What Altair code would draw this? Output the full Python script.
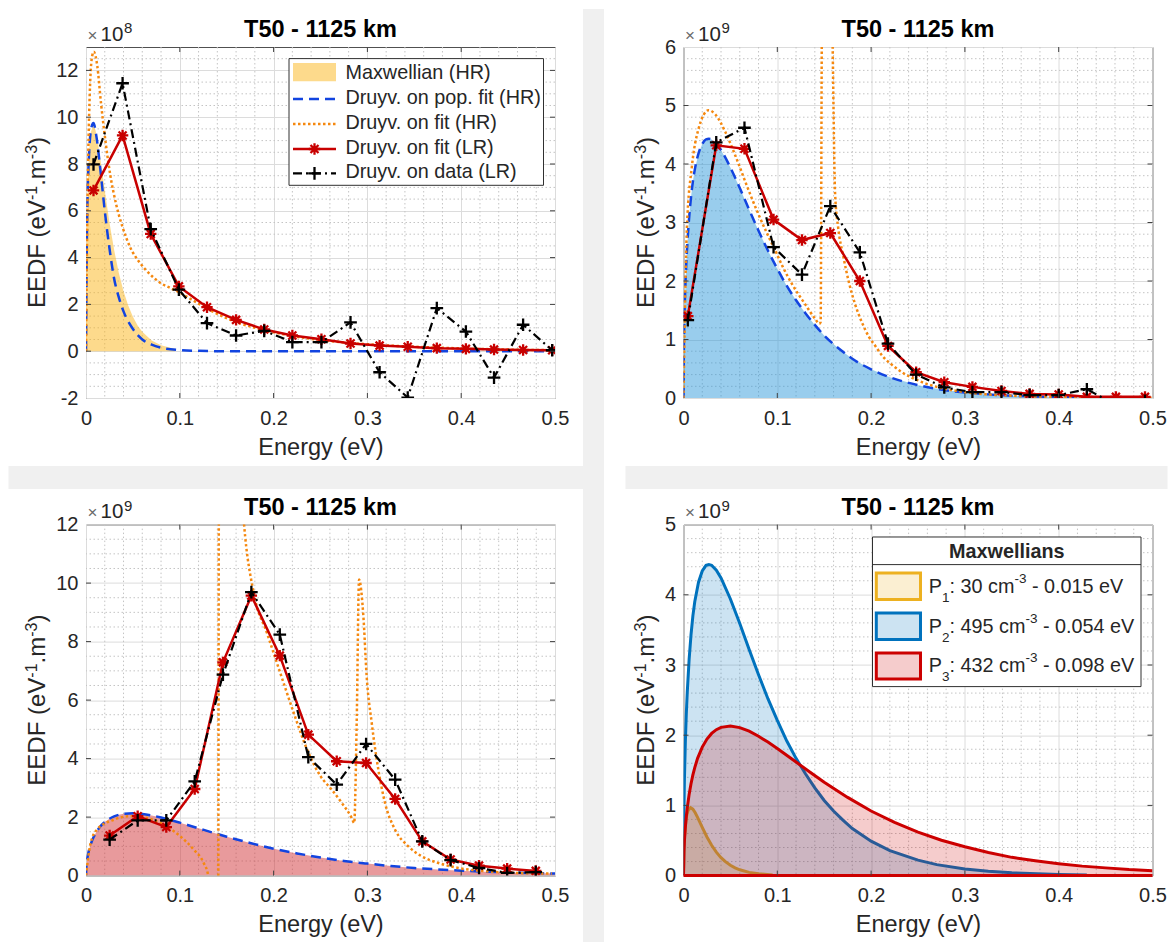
import altair as alt
import pandas as pd

# ---------------------------------------------------------------- data
# Maxwellian populations (EEDF in 1e9 eV^-1 m^-3)
E_p1 = [0, 0.0005, 0.001, 0.0025, 0.0035, 0.005, 0.0075, 0.01, 0.0125, 0.015, 0.0175, 0.02, 0.025, 0.03, 0.035,
        0.04, 0.045, 0.05, 0.055, 0.06, 0.07, 0.08, 0.095]
P1 = [0, 0.398, 0.545, 0.780, 0.863, 0.933, 0.968, 0.946, 0.895, 0.830, 0.759, 0.687, 0.550, 0.432, 0.334,
      0.256, 0.195, 0.147, 0.110, 0.083, 0.046, 0.025, 0.009]
E_p2 = [0, 0.0005, 0.001, 0.002, 0.003, 0.004, 0.006, 0.008, 0.01, 0.012, 0.016, 0.02, 0.024, 0.027, 0.03, 0.035,
        0.04, 0.05, 0.06, 0.07, 0.08, 0.09, 0.1, 0.11, 0.12, 0.13, 0.14, 0.15, 0.16, 0.17, 0.18, 0.2, 0.22, 0.25,
        0.27, 0.3, 0.325, 0.35, 0.4, 0.43]
P2 = [0, 0.99, 1.38, 1.92, 2.31, 2.61, 3.08, 3.43, 3.70, 3.90, 4.18, 4.34, 4.42, 4.43, 4.42, 4.35,
      4.24, 3.94, 3.59, 3.22, 2.86, 2.52, 2.21, 1.92, 1.67, 1.45, 1.25, 1.07, 0.92, 0.79, 0.67, 0.49, 0.355, 0.22,
      0.156, 0.094, 0.062, 0.040, 0.016, 0.009]
E_p3 = [0, 0.0005, 0.001, 0.002, 0.003, 0.004, 0.006, 0.008, 0.01, 0.012, 0.015, 0.02, 0.025, 0.03, 0.035, 0.04,
        0.05, 0.06, 0.07, 0.08, 0.09, 0.1, 0.11, 0.12, 0.135, 0.15, 0.175, 0.2, 0.225, 0.25, 0.275, 0.3, 0.325,
        0.35, 0.375, 0.4, 0.425, 0.45, 0.475, 0.5]
P3 = [0, 0.353, 0.497, 0.696, 0.844, 0.964, 1.157, 1.309, 1.434, 1.539, 1.67, 1.831, 1.945, 2.025, 2.079, 2.112,
      2.131, 2.108, 2.057, 1.985, 1.902, 1.81, 1.714, 1.617, 1.471, 1.33, 1.114, 0.92, 0.758, 0.62, 0.503, 0.41,
      0.328, 0.26, 0.212, 0.17, 0.135, 0.11, 0.086, 0.07]

# panel 1 (1e8 units)
E_pop1 = [0, 0.001, 0.003, 0.006, 0.008, 0.011, 0.016, 0.020, 0.025, 0.030, 0.035, 0.040, 0.050, 0.060, 0.070, 0.080, 0.100, 0.120, 0.150, 0.5]
POP1 = [0, 5.0, 8.2, 9.6, 9.75, 9.2, 7.5, 6.0, 4.4, 3.1, 2.3, 1.7, 0.95, 0.5, 0.28, 0.15, 0.05, 0.015, 0.0, 0.0]
E_hr1 = [0, 0.0015, 0.004, 0.0065, 0.0083, 0.012, 0.016, 0.021, 0.026, 0.032, 0.039, 0.047, 0.057, 0.068, 0.08, 0.09, 0.1,
         0.115, 0.13, 0.145, 0.16, 0.19, 0.22, 0.25, 0.28, 0.31, 0.35, 0.4, 0.45, 0.5]
HR1 = [0, 6.0, 11.0, 12.6, 12.8, 12.2, 10.6, 8.9, 7.5, 6.3, 5.3, 4.45, 3.8, 3.3, 2.9, 2.7, 2.5,
       2.15, 1.8, 1.5, 1.25, 0.9, 0.65, 0.48, 0.36, 0.27, 0.19, 0.12, 0.07, 0.04]
E_lr1 = [0.008, 0.039, 0.069, 0.099, 0.129, 0.160, 0.190, 0.220, 0.251, 0.282, 0.313, 0.343, 0.374, 0.405, 0.435, 0.466, 0.497]
FIT_LR1 = [6.87, 9.22, 5.01, 2.77, 1.88, 1.34, 0.93, 0.67, 0.51, 0.33, 0.24, 0.19, 0.13, 0.10, 0.07, 0.05, 0.04]
DATA_LR1 = [7.98, 11.45, 5.22, 2.63, 1.20, 0.67, 0.87, 0.39, 0.39, 1.23, -0.90, -1.98, 1.84, 0.84, -1.13, 1.13, 0.04]

# panel 2 (1e9 units)
E_hr2 = [0, 0.0015, 0.0036, 0.0089, 0.016, 0.0268, 0.0338, 0.0445, 0.0551, 0.0658, 0.0783, 0.088, 0.097, 0.1056, 0.1156,
         0.1298, 0.1405, 0.1448, 0.1462, 0.1476, 0.153, 0.1585, 0.1616, 0.165, 0.17, 0.176, 0.183, 0.19, 0.1975, 0.2045,
         0.212, 0.222, 0.233, 0.25, 0.27, 0.3, 0.35, 0.4, 0.45, 0.5]
HR2 = [0, 1.5, 2.9, 3.95, 4.6, 4.92, 4.85, 4.55, 4.15, 3.7, 3.2, 2.85, 2.55, 2.25, 1.95,
       1.6, 1.35, 1.27, 1.3, 6.5, 10.0, 6.5, 3.5, 2.9, 2.45, 2.0, 1.6, 1.3, 1.05, 0.89,
       0.72, 0.57, 0.44, 0.3, 0.19, 0.1, 0.04, 0.02, 0.01, 0.005]
E_lr2 = [0.0046, 0.0349, 0.065, 0.096, 0.1263, 0.1565, 0.188, 0.218, 0.248, 0.278, 0.308, 0.339, 0.369, 0.40, 0.430, 0.461, 0.492]
FIT_LR2 = [1.40, 4.32, 4.26, 3.05, 2.70, 2.82, 2.00, 0.89, 0.44, 0.27, 0.19, 0.12, 0.07, 0.06, 0.02, 0.02, 0.02]
DATA_LR2 = [1.33, 4.37, 4.62, 2.58, 2.11, 3.28, 2.49, 0.93, 0.40, 0.18, 0.10, 0.10, 0.05, 0.05, 0.15, -0.12, -0.05]

# panel 3 (1e9 units)
E_hr3 = [0, 0.0046, 0.0117, 0.0295, 0.0472, 0.065, 0.0828, 0.1006, 0.1148, 0.1255, 0.1301, 0.1330, 0.1408, 0.1418, 0.155,
         0.1684, 0.1788, 0.193, 0.2072, 0.2215, 0.2357, 0.25, 0.2619, 0.2726, 0.2833, 0.2859, 0.2887, 0.2911, 0.2957,
         0.2992, 0.3046, 0.3117, 0.3188, 0.3295, 0.3437, 0.3579, 0.3757, 0.397, 0.4254, 0.461, 0.4966]
HR3 = [0, 1.06, 1.57, 1.91, 2.03, 1.97, 1.74, 1.34, 0.89, 0.43, 0.03, -1.0, -3.0, 14.0, 20.0,
       12.05, 9.66, 8.29, 6.92, 5.56, 4.31, 3.4, 2.94, 2.49, 1.97, 1.80, 5.45, 10.12, 8.87,
       6.82, 5.22, 3.62, 2.48, 1.57, 1.0, 0.66, 0.43, 0.26, 0.15, 0.09, 0.07]
E_lr3 = [0.0252, 0.0551, 0.0856, 0.1159, 0.146, 0.1763, 0.2066, 0.237, 0.2673, 0.2986, 0.3296, 0.3585, 0.3887, 0.419, 0.449, 0.4795]
FIT_LR3 = [1.37, 2.03, 1.66, 2.96, 7.29, 9.57, 7.52, 4.82, 3.91, 3.85, 2.62, 1.17, 0.55, 0.34, 0.24, 0.16]
DATA_LR3 = [1.23, 1.89, 1.89, 3.22, 6.87, 9.69, 8.24, 4.05, 3.11, 4.50, 3.28, 1.17, 0.53, 0.26, 0.09, 0.12]

TITLE = "T50 - 1125 km"
X_TITLE = "Energy (eV)"
Y_TITLE_PARTS = [("EEDF (eV", "n"), ("-1", "^"), (".m", "n"), ("-3", "^"), (")", "n")]
LEG1 = ["Maxwellian (HR)", "Druyv. on pop. fit (HR)", "Druyv. on fit (HR)", "Druyv. on fit (LR)", "Druyv. on data (LR)"]
LEG4_TITLE = "Maxwellians"
LEG4_PARTS = [
    [("P", "n"), ("1", "_"), (": 30 cm", "n"), ("-3", "^"), (" - 0.015 eV", "n")],
    [("P", "n"), ("2", "_"), (": 495 cm", "n"), ("-3", "^"), (" - 0.054 eV", "n")],
    [("P", "n"), ("3", "_"), (": 432 cm", "n"), ("-3", "^"), (" - 0.098 eV", "n")],
]
X_TICKS = [0, 0.1, 0.2, 0.3, 0.4, 0.5]

# ---------------------------------------------------------------- style
W, H = 469, 351
FONT = "Liberation Sans"
TXT = "#262626"
GUT = "#f0f0f0"
RED = "#C80000"
BLUE_D = "#1244E0"
ORANGE = "#F5880F"
AST = "M-1,0L1,0M0,-1L0,1M-0.7,-0.7L0.7,0.7M-0.7,0.7L0.7,-0.7"
PLUS = "M-1,0L1,0M0,-1L0,1"
DASH = [10, 6]
DOT = [2.5, 2.5]
DASHDOT = [9, 4, 2, 4]
LBL = "replace(format(datum.value, '~g'), '\u2212', '-')"
ONE = pd.DataFrame({"k": [0]})
LAB_FS, TIT_FS = 20, 23.5
AST_SZ, PLUS_SZ = 130, 160
TICK_LEN = 5
# Arial / Liberation Sans advance widths (em)
CW = {" ": .278, "(": .333, ")": .333, "-": .333, ".": .278, ":": .278, "D": .722, "E": .667, "F": .611,
      "P": .667, "V": .667, "c": .5, "e": .556, "m": .833}


def tw(s, size):
    return sum(CW.get(c, .556) for c in s) * size


def df(e, v, k=1.0):
    return pd.DataFrame({"E": e, "v": [a * k for a in v]})


def enc(ydom, yticks):
    common = dict(labelExpr=LBL, labelFlush=False, labelOverlap=False, labelFont=FONT, titleFont=FONT,
                  labelFontSize=LAB_FS, titleFontSize=TIT_FS, labelColor=TXT, titleColor=TXT,
                  titleFontWeight="normal", grid=True, gridColor="#dcdcdc", gridWidth=1,
                  domain=False, ticks=False)
    X = alt.X("E:Q", scale=alt.Scale(domain=[0, 0.5], nice=False, zero=False),
              axis=alt.Axis(values=X_TICKS, title=X_TITLE, labelPadding=10, titlePadding=7, **common))
    Y = alt.Y("v:Q", scale=alt.Scale(domain=ydom, nice=False, zero=False),
              axis=alt.Axis(values=yticks, title=None, labelPadding=8, **common))
    return X, Y


def minor_grid(X, Y, xm, ym):
    sty = dict(color="#c4c4c4", strokeWidth=1, strokeDash=[1.5, 2.5])
    a = alt.Chart(pd.DataFrame({"E": xm})).mark_rule(**sty).encode(x=X)
    b = alt.Chart(pd.DataFrame({"v": ym})).mark_rule(**sty).encode(y=Y)
    return [a, b]


def inner_ticks(X, Y, xt, yt):
    sty = dict(color="#404040", strokeWidth=1)
    dx = pd.DataFrame({"E": xt})
    dy = pd.DataFrame({"v": yt})
    return [
        alt.Chart(dx).mark_rule(**sty).encode(x=X, y=alt.value(H), y2=alt.value(H - TICK_LEN)),
        alt.Chart(dx).mark_rule(**sty).encode(x=X, y=alt.value(0), y2=alt.value(TICK_LEN)),
        alt.Chart(dy).mark_rule(**sty).encode(y=Y, x=alt.value(0), x2=alt.value(TICK_LEN)),
        alt.Chart(dy).mark_rule(**sty).encode(y=Y, x=alt.value(W), x2=alt.value(W - TICK_LEN)),
    ]


def line(d, X, Y, color, width, dash=None, interp="monotone"):
    kw = dict(color=color, strokeWidth=width, interpolate=interp, clip=True)
    if dash:
        kw["strokeDash"] = dash
    return alt.Chart(d).mark_line(**kw).encode(x=X, y=Y)


def pts(d, X, Y, shape, size, color, sw=2.3):
    return alt.Chart(d).mark_point(shape=shape, size=size, filled=False, strokeWidth=sw,
                                   color=color, opacity=1, clip=True).encode(x=X, y=Y)


def area(d, X, Y, color, op, stroke=None, sw=3):
    kw = dict(color=color, fillOpacity=op, clip=True)
    if stroke:
        kw["line"] = {"color": stroke, "strokeWidth": sw}
    return alt.Chart(d).mark_area(**kw).encode(x=X, y=Y, y2=alt.datum(0))


def vtext(x, y, s, size=19.5, weight="normal", align="left", baseline="middle", color=TXT, angle=0):
    return alt.Chart(ONE).mark_text(text=s, fontSize=size, fontWeight=weight, align=align, angle=angle,
                                    baseline=baseline, color=color, font=FONT).encode(
        x=alt.value(x), y=alt.value(y))


def rich(x, y, parts, size, ssize, up, down, vertical=False):
    out, pos = [], 0.0
    for s, kind in parts:
        fs = size if kind == "n" else ssize
        off = 0 if kind == "n" else (-up if kind == "^" else down)
        if s.startswith(" "):
            pos += tw(" ", fs)
            s = s[1:]
        if vertical:
            out.append(vtext(x + off, y - pos, s, size=fs, baseline="alphabetic", angle=270))
        else:
            out.append(vtext(x + pos, y + off, s, size=fs, baseline="alphabetic"))
        pos += tw(s, fs)
    return out


def ytitle(xb):
    total = sum(tw(s, 24 if k == "n" else 16) for s, k in Y_TITLE_PARTS)
    return rich(xb, H / 2 + total / 2, Y_TITLE_PARTS, 24, 16, 8, 0, vertical=True)


def vrect(x1, x2, y1, y2, fill, stroke=None, sw=1, op=1.0):
    kw = dict(fill=fill, fillOpacity=op)
    if stroke:
        kw.update(stroke=stroke, strokeWidth=sw)
    else:
        kw.update(strokeWidth=0)
    return alt.Chart(ONE).mark_rect(**kw).encode(
        x=alt.value(x1), x2=alt.value(x2), y=alt.value(y1), y2=alt.value(y2))


def vseg(x1, x2, y, color, sw, dash=None):
    kw = dict(color=color, strokeWidth=sw)
    if dash:
        kw["strokeDash"] = dash
    return alt.Chart(ONE).mark_rule(**kw).encode(x=alt.value(x1), x2=alt.value(x2), y=alt.value(y))


def vpt(x, y, shape, size, color, sw=2.3):
    return alt.Chart(ONE).mark_point(shape=shape, size=size, filled=False, strokeWidth=sw,
                                     color=color, opacity=1).encode(x=alt.value(x), y=alt.value(y))


def heads(exp, yb):
    return [vtext(W / 2, -10, TITLE, size=23.5, weight="bold", align="center", baseline="alphabetic", color="#000000"),
            vtext(1.5, -6.4, "\u00d7", size=17, baseline="alphabetic", color="#6a6a6a"),
            vtext(14.5, -6.4, "10", size=20.5, baseline="alphabetic"),
            vtext(38, -14, exp, size=15, baseline="alphabetic"),
            *ytitle(yb)]


def minors(step, lo, hi, majors):
    out = []
    n = int(round((hi - lo) / step))
    for i in range(1, n):
        v = round(lo + i * step, 4)
        if all(abs(v - m) > 1e-9 for m in majors):
            out.append(v)
    return out


XM = minors(0.02, 0, 0.5, X_TICKS)
XT_IN = X_TICKS[1:-1]

# ---------------------------------------------------------------- panel 1
Y1T = [-2, 0, 2, 4, 6, 8, 10, 12]
X1, Y1 = enc([-2, 13], Y1T)
FILL1 = "#FBB519"
p1_layers = [
    vrect(W + 28, W + 49, -38, H + 91, GUT),
    vrect(-77.5, W + 49, H + 68, H + 91, GUT),
    *minor_grid(X1, Y1, XM, minors(0.5, -2, 13, Y1T)),
    area(df(E_p1, P1, 10), X1, Y1, FILL1, 0.5),
    line(df(E_pop1, POP1), X1, Y1, BLUE_D, 2.5, DASH),
    line(df(E_hr1, HR1), X1, Y1, ORANGE, 2.5, DOT),
    line(df(E_lr1, FIT_LR1), X1, Y1, RED, 2.5, interp="linear"),
    pts(df(E_lr1, FIT_LR1), X1, Y1, AST, AST_SZ, RED),
    line(df(E_lr1, DATA_LR1), X1, Y1, "#000000", 2.2, DASHDOT, interp="linear"),
    pts(df(E_lr1, DATA_LR1), X1, Y1, PLUS, PLUS_SZ, "#000000"),
    *inner_ticks(X1, Y1, XT_IN, Y1T[1:]),
    # legend
    vrect(203, 457.5, 11.6, 138.3, "#ffffff", stroke="#303030", sw=1),
    vrect(207, 250, 16, 34.3, FILL1, op=0.5),
    vseg(207, 250, 52, BLUE_D, 2.5, DASH),
    vseg(207, 250, 77, ORANGE, 2.5, DOT),
    vseg(207, 250, 102, RED, 2.5),
    vpt(228.5, 102, AST, AST_SZ, RED),
    vseg(207, 250, 126.3, "#000000", 2.2, DASHDOT),
    vpt(228.5, 126.3, PLUS, PLUS_SZ, "#000000"),
    *[vtext(259.5, y, s, size=19.8) for y, s in zip([26, 51, 76, 101, 125.3], LEG1)],
    *heads("8", -41.5),
]
p1 = alt.layer(*p1_layers).properties(width=W, height=H)

# ---------------------------------------------------------------- panel 2
Y2T = [0, 1, 2, 3, 4, 5, 6]
X2, Y2 = enc([0, 6], Y2T)
FILL2 = "#2A97DA"
p2_layers = [
    vrect(-58, 484, H + 68, H + 91, GUT),
    *minor_grid(X2, Y2, XM, minors(0.2, 0, 6, Y2T)),
    area(df(E_p2, P2), X2, Y2, FILL2, 0.48),
    line(df(E_p2, P2), X2, Y2, BLUE_D, 2.5, DASH),
    line(df(E_hr2, HR2), X2, Y2, ORANGE, 2.5, DOT),
    line(df(E_lr2, FIT_LR2), X2, Y2, RED, 2.5, interp="linear"),
    pts(df(E_lr2, FIT_LR2), X2, Y2, AST, AST_SZ, RED),
    line(df(E_lr2, DATA_LR2), X2, Y2, "#000000", 2.2, DASHDOT, interp="linear"),
    pts(df(E_lr2, DATA_LR2), X2, Y2, PLUS, PLUS_SZ, "#000000"),
    *inner_ticks(X2, Y2, XT_IN, Y2T[1:-1]),
    *heads("9", -29.4),
]
p2 = alt.layer(*p2_layers).properties(width=W, height=H)

# ---------------------------------------------------------------- panel 3
Y3T = [0, 2, 4, 6, 8, 10, 12]
X3, Y3 = enc([0, 12], Y3T)
FILL3 = "#D13539"
p3_layers = [
    vrect(W + 28, W + 49, -37, H + 70, GUT),
    *minor_grid(X3, Y3, XM, minors(0.5, 0, 12, Y3T)),
    area(df(E_p3, P3), X3, Y3, FILL3, 0.5),
    line(df(E_p3, P3), X3, Y3, BLUE_D, 2.5, DASH),
    line(df(E_hr3, HR3), X3, Y3, ORANGE, 2.5, DOT),
    line(df(E_lr3, FIT_LR3), X3, Y3, RED, 2.5, interp="linear"),
    pts(df(E_lr3, FIT_LR3), X3, Y3, AST, AST_SZ, RED),
    line(df(E_lr3, DATA_LR3), X3, Y3, "#000000", 2.2, DASHDOT, interp="linear"),
    pts(df(E_lr3, DATA_LR3), X3, Y3, PLUS, PLUS_SZ, "#000000"),
    *inner_ticks(X3, Y3, XT_IN, Y3T[1:-1]),
    *heads("9", -40.8),
]
p3 = alt.layer(*p3_layers).properties(width=W, height=H)

# ---------------------------------------------------------------- panel 4
Y4T = [0, 1, 2, 3, 4, 5]
X4, Y4 = enc([0, 5], Y4T)
C1, C2, C3 = "#EDB120", "#0072BD", "#CC0000"
leg4_text = []
for yb, parts in zip([68.4, 108.4, 147.7], LEG4_PARTS):
    leg4_text += rich(245.3, yb, parts, 19.8, 13.5, 10.5, 8.5)
p4_layers = [
    *minor_grid(X4, Y4, XM, minors(0.2, 0, 5, Y4T)),
    area(df(E_p1, P1), X4, Y4, C1, 0.2, stroke=C1),
    area(df(E_p2, P2), X4, Y4, C2, 0.2, stroke=C2),
    area(df(E_p3, P3), X4, Y4, C3, 0.2, stroke=C3),
    alt.Chart(ONE).mark_rule(color=C3, strokeWidth=3).encode(x=alt.datum(0), x2=alt.datum(0.5), y=alt.datum(0)),
    *inner_ticks(X4, Y4, XT_IN, Y4T[1:-1]),
    # legend
    vrect(189, 457.5, 12.4, 162, "#ffffff", stroke="#303030", sw=1),
    vseg(189, 457.5, 40, "#303030", 1),
    vtext(323.3, 27.4, LEG4_TITLE, size=19.8, weight="bold", align="center"),
    vrect(192.8, 237, 48.4, 75, C1, stroke=C1, sw=3, op=0.2),
    vrect(192.8, 237, 88.4, 115, C2, stroke=C2, sw=3, op=0.2),
    vrect(192.8, 237, 128.4, 154.3, C3, stroke=C3, sw=3, op=0.2),
    *leg4_text,
    *heads("9", -29.2),
]
p4 = alt.layer(*p4_layers).properties(width=W, height=H)

chart = alt.concat(p1, p2, p3, p4, columns=2, spacing={"row": 126.6, "column": 128.5},
                   bounds="flush", padding=0).configure(
    font=FONT, background="#ffffff"
).configure_view(stroke="#505050", strokeWidth=1)

chart.save("out.html", embed_options={"renderer": "svg", "actions": False})
